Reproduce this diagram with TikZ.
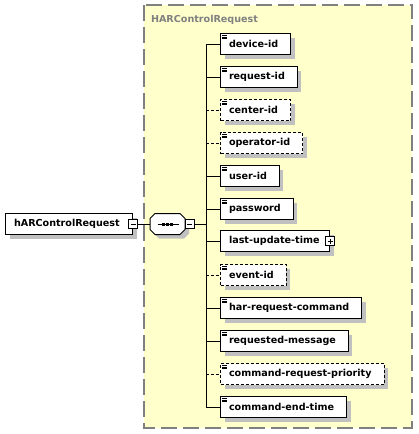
\documentclass[tikz,border=0pt]{standalone}
\usepackage{fontspec}
\setmainfont{DejaVu Sans}

\definecolor{groupfill}{HTML}{FFFFCC}
\definecolor{groupline}{HTML}{808080}
\definecolor{shadowgray}{HTML}{C0C0C0}

\tikzset{
  boxshadow/.style={preaction={draw=none, fill=shadowgray, solid,
    transform canvas={xshift=4pt, yshift=-4pt}}},
  elembase/.style={draw=black, line width=1pt, fill=white, rectangle,
    minimum height=21pt, inner xsep=0pt, inner ysep=0pt, anchor=west,
    font={\bfseries\fontsize{9.6}{12}\selectfont},
    execute at begin node={\hspace*{8.5pt}},
    boxshadow},
  elem/.style={elembase, execute at end node={\hspace*{12.5pt}}},
  simple/.style={elem,
    path picture={
      \foreach \k in {2,3.6,5.2}
        \draw [line width=0.8pt, solid] ([xshift=1.5pt,yshift=-\k pt]path picture bounding box.north west) -- ++(5pt,0);
    }},
  opt/.style={simple, dash pattern=on 3pt off 2pt},
  optline/.style={dash pattern=on 3pt off 2pt},
  toggle/.style={draw=black, fill=white, line width=0.8pt, rectangle,
    minimum size=9pt, inner sep=0pt},
  minus/.style={toggle,
    path picture={\draw [line width=0.8pt] ([xshift=2pt]path picture bounding box.west) -- ([xshift=-2pt]path picture bounding box.east);}},
  plus/.style={toggle,
    path picture={\draw [line width=0.8pt] ([xshift=2pt]path picture bounding box.west) -- ([xshift=-2pt]path picture bounding box.east);
      \draw [line width=0.8pt] ([yshift=-2pt]path picture bounding box.north) -- ([yshift=2pt]path picture bounding box.south);}},
}

\begin{document}
\begin{tikzpicture}[x=1pt, y=-1pt, line width=1pt]

\useasboundingbox (0,0) rectangle (418,434);

% group box of the complex type
\draw [fill=groupfill, draw=groupline, line width=1.5pt, dash pattern=on 16pt off 6pt]
  (144,5) rectangle (412,428);

\node [anchor=base west, inner sep=0pt, text=groupline,
font={\bfseries\fontsize{9.6}{12}\selectfont}] (title) at (150.5,22) {HARControlRequest};

% root element
\node [elembase, execute at end node={\hspace*{13pt}}] (root) at (5,224) {hARControlRequest};
\node [minus] (root-minus) at (root.east) {};

% sequence compositor (octagon drawn round an empty node)
\node [minimum width=34pt, minimum height=20pt, inner sep=0pt, anchor=west] (seq) at (150,224) {};
\fill [shadowgray, transform canvas={xshift=4pt, yshift=-4pt}]
  ([xshift=5pt]seq.north west) -- ([xshift=-5pt]seq.north east) -- ([yshift=-5pt]seq.north east)
  -- ([yshift=5pt]seq.south east) -- ([xshift=-5pt]seq.south east) -- ([xshift=5pt]seq.south west)
  -- ([yshift=5pt]seq.south west) -- ([yshift=-5pt]seq.north west) -- cycle;
\draw [fill=white]
  ([xshift=5pt]seq.north west) -- ([xshift=-5pt]seq.north east) -- ([yshift=-5pt]seq.north east)
  -- ([yshift=5pt]seq.south east) -- ([xshift=-5pt]seq.south east) -- ([xshift=5pt]seq.south west)
  -- ([yshift=5pt]seq.south west) -- ([yshift=-5pt]seq.north west) -- cycle;
\draw ([xshift=-10pt]seq.center) -- ([xshift=11pt]seq.center);
\foreach \d in {-4,0,4}
  \fill ([xshift=\d pt]seq.center) +(-1.5pt,-1.5pt) rectangle +(1.5pt,1.5pt);
\node [minus, anchor=west] (seq-minus) at (seq.east) {};

\coordinate (trunk) at (206,224);

% child elements
\node [simple] (device) at (220,44) {device-id};
\node [simple] (request) at (220,77) {request-id};
\node [opt] (center) at (220,110) {center-id};
\node [opt] (operator) at (220,143) {operator-id};
\node [simple] (user) at (220,176) {user-id};
\node [simple] (password) at (220,209) {password};
\node [elembase, execute at end node={\hspace*{10pt}}] (lastupdate) at (220,241) {last-update-time};
\node [plus] (lastupdate-plus) at (lastupdate.east) {};
\node [opt] (event) at (220,275) {event-id};
\node [simple] (harcmd) at (220,308) {har-request-command};
\node [simple] (reqmsg) at (220,341) {requested-message};
\node [opt] (priority) at (220,374) {command-request-priority};
\node [simple] (endtime) at (220,407) {command-end-time};

% connectors
\draw (root-minus.east) -- (seq.west);
\draw (seq-minus.east) -- (trunk);
\draw (trunk |- device.west) -- (trunk |- endtime.west);
\draw (trunk |- device.west) -- (device.west);
\draw (trunk |- request.west) -- (request.west);
\draw [optline] (trunk |- center.west) -- (center.west);
\draw [optline] (trunk |- operator.west) -- (operator.west);
\draw (trunk |- user.west) -- (user.west);
\draw (trunk |- password.west) -- (password.west);
\draw (trunk |- lastupdate.west) -- (lastupdate.west);
\draw [optline] (trunk |- event.west) -- (event.west);
\draw (trunk |- harcmd.west) -- (harcmd.west);
\draw (trunk |- reqmsg.west) -- (reqmsg.west);
\draw [optline] (trunk |- priority.west) -- (priority.west);
\draw (trunk |- endtime.west) -- (endtime.west);

\end{tikzpicture}
\end{document}
